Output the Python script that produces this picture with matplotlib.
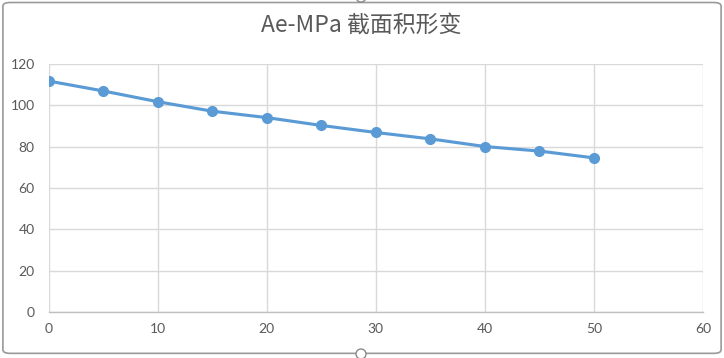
import matplotlib
matplotlib.use('Agg')
import matplotlib.pyplot as plt
from matplotlib.patches import FancyBboxPatch, Circle

# data
strain = [0, 5, 10, 15, 20, 25, 30, 35, 40, 45, 50]
area = [111.8, 107.0, 101.8, 97.2, 94.1, 90.3, 86.9, 83.8, 80.1, 77.9, 74.6]
xticks = [0, 10, 20, 30, 40, 50, 60]
yticks = [0, 20, 40, 60, 80, 100, 120]
title = 'Ae-MPa 截面积形变'

plt.rcParams['font.family'] = ['Lato', 'Noto Sans CJK SC', 'DejaVu Sans']

fig = plt.figure(figsize=(7.24, 3.58), dpi=100)

# chart frame (excel style, selected)
frame = FancyBboxPatch((0.004, 0.013), 0.992, 0.98, boxstyle='round,pad=0,rounding_size=0.01',
                       transform=fig.transFigure, fill=False, edgecolor='#9a9a9a', linewidth=1.2)
fig.patches.append(frame)
for cx, cy in [(361, 4), (361, 361)]:
    fig.patches.append(Circle((cx, cy), 5, transform=None, facecolor='white',
                              edgecolor='#8a8a8a', linewidth=1))

ax = fig.add_axes([0.067, 0.1285, 0.904, 0.6925])
ax.plot(strain, area, color='#5b9bd5', linewidth=2.25, marker='o', markersize=7,
        markerfacecolor='#5b9bd5', markeredgecolor='#5b9bd5', zorder=3)

ax.set_xlim(0, 60)
ax.set_ylim(0, 120)
ax.set_xticks(xticks)
ax.set_yticks(yticks)
ax.grid(True, color='#d9d9d9', linewidth=1)
ax.set_axisbelow(True)
for s in ['top', 'right', 'left']:
    ax.spines[s].set_visible(False)
ax.spines['bottom'].set_color('#bfbfbf')
ax.spines['bottom'].set_linewidth(1)
ax.tick_params(length=0, colors='#595959', labelsize=10, pad=8)
ax.tick_params(axis='y', pad=10)

fig.text(0.4986, 0.928, title, ha='center', va='center', fontsize=16.5, color='#595959',
         family=['Noto Sans CJK SC', 'DejaVu Sans'])

fig.savefig('out.png', dpi=100)
